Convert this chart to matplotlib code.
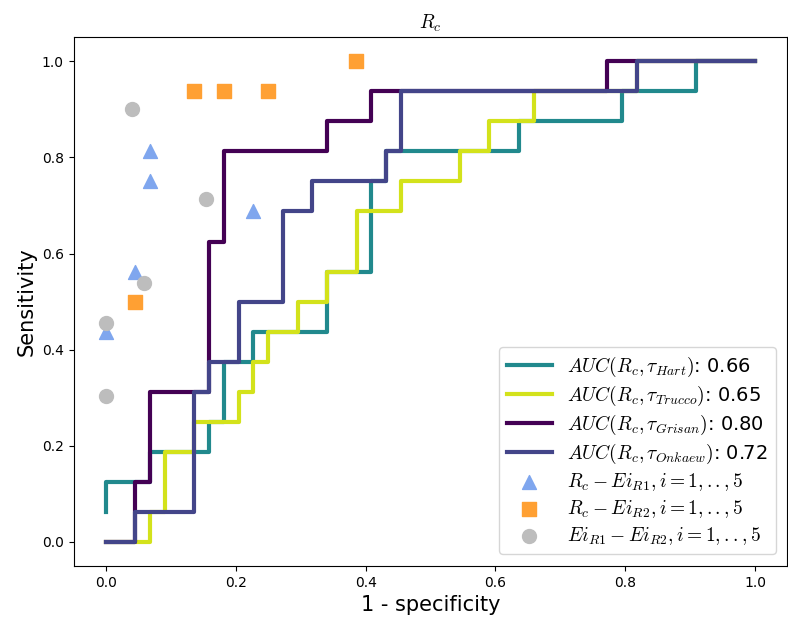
import matplotlib.pyplot as plt
import numpy as np

plt.rcParams['mathtext.fontset'] = 'cm'

# number of negative / positive cases (the step sizes of the ROC curves)
n_neg = 44
n_pos = 16

# ROC corner points as counts (false positives, true positives)
hart_fp = [0, 0, 3, 3, 7, 7, 8, 8, 10, 10, 15, 15, 18, 18, 19, 19, 28, 28, 35, 35, 40, 40, 44]
hart_tp = [1, 2, 2, 3, 3, 4, 4, 6, 6, 7, 7, 9, 9, 12, 12, 13, 13, 14, 14, 15, 15, 16, 16]

trucco_fp = [0, 3, 3, 4, 4, 6, 6, 9, 9, 10, 10, 11, 11, 13, 13, 15, 15, 17, 17, 20, 20, 24, 24,
             26, 26, 29, 29, 36, 36, 44]
trucco_tp = [0, 0, 1, 1, 3, 3, 4, 4, 5, 5, 6, 6, 7, 7, 8, 8, 9, 9, 11, 11, 12, 12, 13,
             13, 14, 14, 15, 15, 16, 16]

grisan_fp = [0, 2, 2, 3, 3, 7, 7, 8, 8, 15, 15, 18, 18, 34, 34, 44]
grisan_tp = [0, 0, 2, 2, 5, 5, 10, 10, 13, 13, 14, 14, 15, 15, 16, 16]

onkaew_fp = [0, 2, 2, 6, 6, 7, 7, 9, 9, 12, 12, 14, 14, 19, 19, 20, 20, 36, 36, 44]
onkaew_tp = [0, 0, 1, 1, 5, 5, 6, 6, 8, 8, 11, 11, 12, 12, 13, 13, 15, 15, 16, 16]

auc_values = {'Hart': 0.66, 'Trucco': 0.65, 'Grisan': 0.80, 'Onkaew': 0.72}

# observer points (1 - specificity, sensitivity)
r1_x = [0.0, 0.045, 0.068, 0.068, 0.227]
r1_y = [0.4375, 0.5625, 0.75, 0.8125, 0.6875]
r2_x = [0.045, 0.136, 0.182, 0.25, 0.386]
r2_y = [0.5, 0.9375, 0.9375, 0.9375, 1.0]
ei_x = [0.0, 0.0, 0.059, 0.154, 0.040]
ei_y = [0.455, 0.303, 0.538, 0.714, 0.9]

curves = [
    ('Hart', hart_fp, hart_tp, '#21898d'),
    ('Trucco', trucco_fp, trucco_tp, '#d3e21b'),
    ('Grisan', grisan_fp, grisan_tp, '#440154'),
    ('Onkaew', onkaew_fp, onkaew_tp, '#434589'),
]

fig = plt.figure(figsize=(7.88, 6.28), dpi=100)
ax = fig.add_axes([0.0933, 0.0987, 0.906, 0.842])

for name, fp, tp, color in curves:
    fpr = np.array(fp) / n_neg
    tpr = np.array(tp) / n_pos
    ax.plot(fpr, tpr, color=color, lw=3,
            label=r'$AUC(R_c,\tau_{%s})$: %.2f' % (name, auc_values[name]))

ax.scatter(r1_x, r1_y, marker='^', s=100, color='#7fa6ee', label=r'$R_c-Ei_{R1},i=1,..,5$')
ax.scatter(r2_x, r2_y, marker='s', s=100, color='#ffa033', label=r'$R_c-Ei_{R2},i=1,..,5$')
ax.scatter(ei_x, ei_y, marker='o', s=100, color='#bdbdbd', label=r'$Ei_{R1}-Ei_{R2},i=1,..,5$')

ax.set_xlim(-0.05, 1.05)
ax.set_ylim(-0.05, 1.05)
ax.set_title(r'$R_c$', fontsize=14)
ax.set_xlabel('1 - specificity', fontsize=15)
ax.set_ylabel('Sensitivity', fontsize=15)
ax.legend(loc='lower right', fontsize=14, labelspacing=0.25, handlelength=2.3,
          borderaxespad=0.6)

plt.savefig('out.png')
